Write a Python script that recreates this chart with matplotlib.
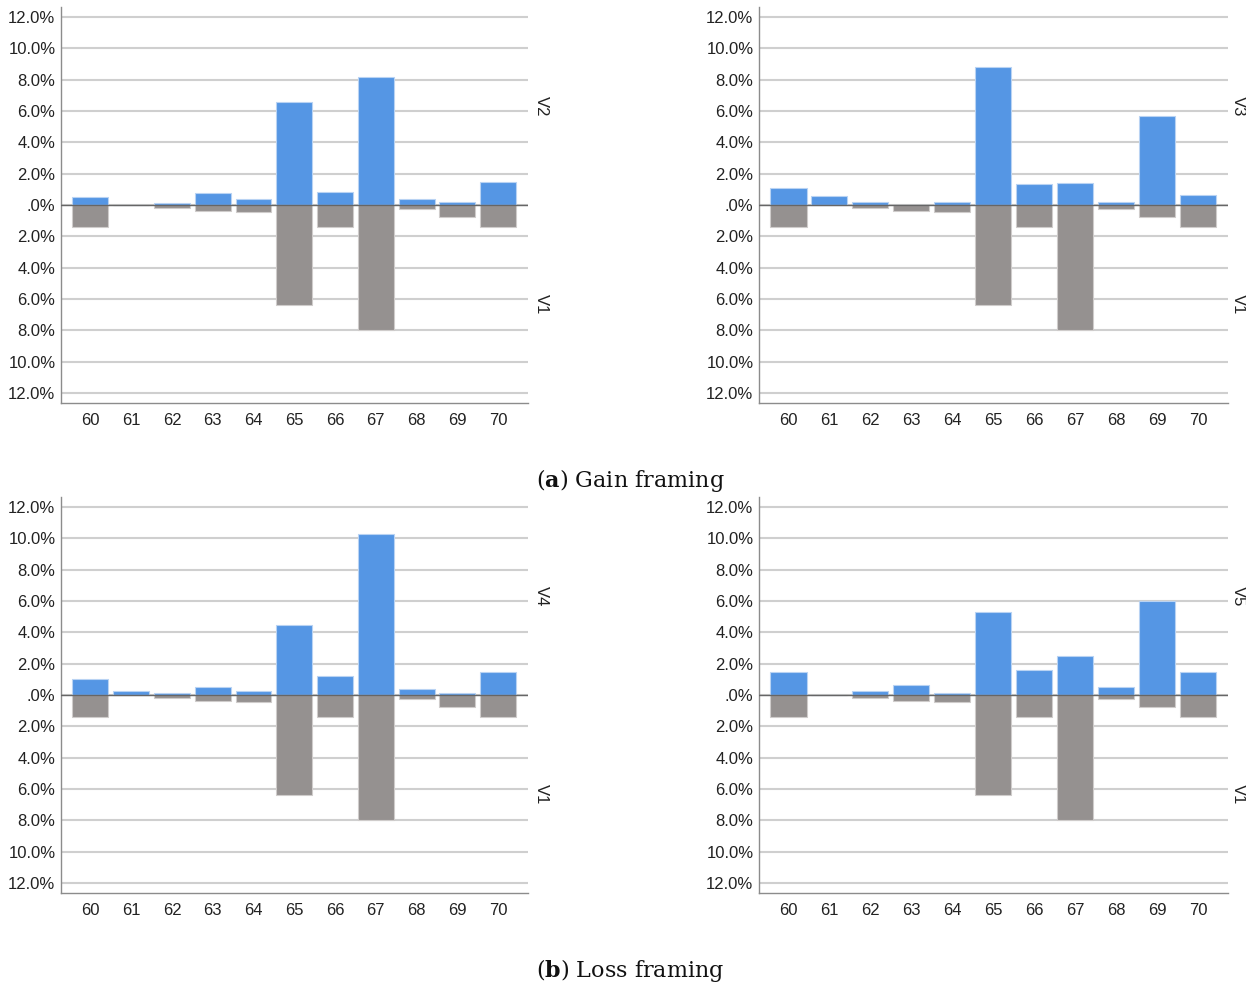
import matplotlib
matplotlib.use("Agg")
import matplotlib.pyplot as plt
from matplotlib.ticker import FuncFormatter
import matplotlib.transforms as mtransforms

plt.rcParams["font.family"] = ["Liberation Sans", "DejaVu Sans"]
plt.rcParams["mathtext.fontset"] = "dejavuserif"

ages = ["60", "61", "62", "63", "64", "65", "66", "67", "68", "69", "70"]

# Shared baseline group (plotted downward in every panel)
v1 = [1.40, 0.0, 0.19, 0.36, 0.47, 6.38, 1.40, 8.00, 0.28, 0.74, 1.40]

# Comparison groups (plotted upward)
v2 = [0.53, 0.0, 0.11, 0.74, 0.36, 6.57, 0.83, 8.15, 0.36, 0.19, 1.47]
v3 = [1.11, 0.55, 0.19, 0.0, 0.19, 8.81, 1.32, 1.38, 0.19, 5.66, 0.66]
v4 = [1.00, 0.28, 0.11, 0.53, 0.28, 4.45, 1.19, 10.28, 0.36, 0.11, 1.47]
v5 = [1.47, 0.0, 0.28, 0.64, 0.11, 5.28, 1.57, 2.51, 0.53, 6.02, 1.47]

upper_names = ["V2", "V3", "V4", "V5"]
upper_values = [v2, v3, v4, v5]
lower_name = "V1"

captions = [r"($\mathbf{a}$) Gain framing", r"($\mathbf{b}$) Loss framing"]

BLUE = "#5596e4"
GREY = "#959190"
W, H = 1246, 984

fig = plt.figure(figsize=(W / 100, H / 100), dpi=100)

# panel boxes in pixels: (left, top, right, bottom, side-label offset)
boxes = [
    (61, 7, 528, 403, 13),
    (759, 7, 1228, 403, 10),
    (61, 497, 528, 893, 13),
    (759, 497, 1228, 893, 10),
]

YLIM = 12.65
yticks = list(range(-12, 13, 2))


def pct_fmt(v, pos):
    a = abs(v)
    if a < 1e-9:
        return ".0%"
    return f"{a:.1f}%"


x = list(range(len(ages)))
for (l, t, r, b, off), name, vals in zip(boxes, upper_names, upper_values):
    ax = fig.add_axes([l / W, 1 - b / H, (r - l) / W, (b - t) / H])
    ax.set_xlim(-0.72, len(ages) - 1 + 0.73)
    ax.set_ylim(-YLIM, YLIM)
    for yt in yticks:
        ax.axhline(yt, color="#cfcfcf", lw=1.5, zorder=0)
    ax.bar(x, vals, width=0.88, color=BLUE, edgecolor="#b9d3f3", linewidth=0.8, zorder=2)
    ax.bar(x, [-v for v in v1], width=0.88, color=GREY, edgecolor="#cfcccb", linewidth=0.8, zorder=2)
    ax.axhline(0, color="#666666", lw=1.0, zorder=3)

    ax.set_yticks(yticks)
    ax.yaxis.set_major_formatter(FuncFormatter(pct_fmt))
    ax.set_xticks(x)
    ax.set_xticklabels(ages)
    ax.tick_params(axis="y", length=0, pad=4, labelsize=12, colors="#222222")
    ax.tick_params(axis="x", length=0, pad=7, labelsize=12, colors="#222222")
    for s in ("top", "right"):
        ax.spines[s].set_visible(False)
    for s in ("left", "bottom"):
        ax.spines[s].set_color("#8c8c8c")
        ax.spines[s].set_linewidth(1.0)

    tr = mtransforms.blended_transform_factory(ax.transAxes, ax.transData)
    xo = 1 + off / (r - l)
    ax.text(xo, YLIM / 2, name, transform=tr, rotation=-90, ha="center", va="center",
            fontsize=12, color="#222222", clip_on=False)
    ax.text(xo, -YLIM / 2, lower_name, transform=tr, rotation=-90, ha="center", va="center",
            fontsize=12, color="#222222", clip_on=False)

fig.text(630 / W, 1 - 481 / H, captions[0], ha="center", va="center",
         fontsize=16, family="DejaVu Serif", color="#111111")
fig.text(630 / W, 1 - 970 / H, captions[1], ha="center", va="center",
         fontsize=16, family="DejaVu Serif", color="#111111")

fig.savefig("out.png", dpi=100, facecolor="white")
